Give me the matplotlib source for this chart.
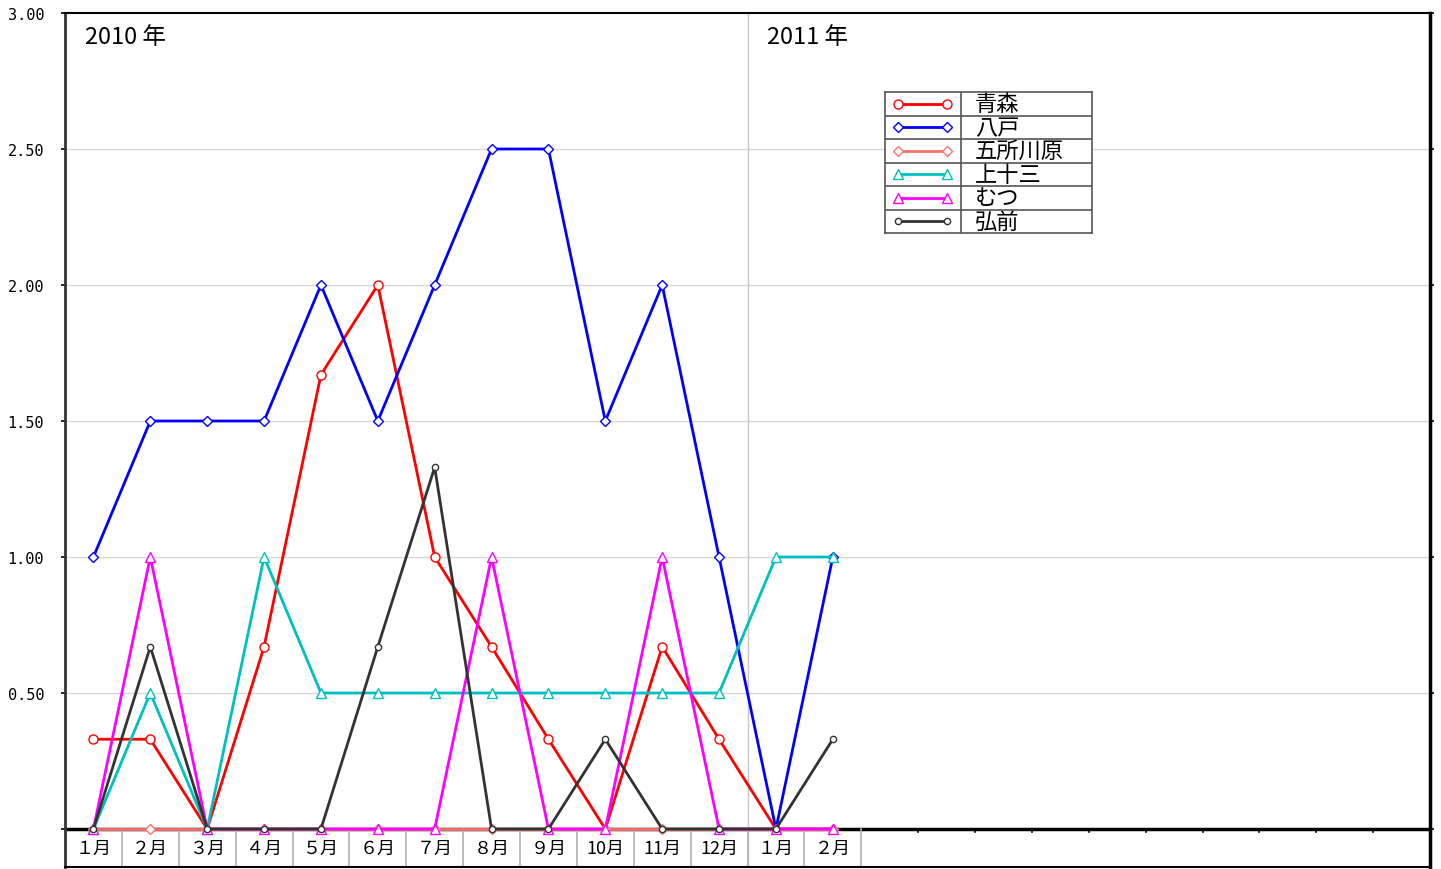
import numpy as np
import matplotlib
matplotlib.use("Agg")
import matplotlib.pyplot as plt

plt.rcParams['font.family'] = ['Noto Sans CJK JP', 'DejaVu Sans']

# --- data ---
months = ["１月", "２月", "３月", "４月", "５月", "６月", "７月", "８月", "９月",
          "10月", "11月", "12月", "１月", "２月"]
n_slots = 24
years = ["2010 年", "2011 年"]

aomori = [0.33, 0.33, 0, 0.67, 1.67, 2.0, 1.0, 0.67, 0.33, 0, 0.67, 0.33, 0, 0]
hachinohe = [1.0, 1.5, 1.5, 1.5, 2.0, 1.5, 2.0, 2.5, 2.5, 1.5, 2.0, 1.0, 0, 1.0]
goshogawara = [0, 0, 0, 0, 0, 0, 0, 0, 0, 0, 0, 0, 0, 0]
kamitosan = [0, 0.5, 0, 1.0, 0.5, 0.5, 0.5, 0.5, 0.5, 0.5, 0.5, 0.5, 1.0, 1.0]
mutsu = [0, 1.0, 0, 0, 0, 0, 0, 1.0, 0, 0, 1.0, 0, 0, 0]
hirosaki = [0, 0.67, 0, 0, 0, 0.67, 1.33, 0, 0, 0.33, 0, 0, 0, 0.33]

# name, values, colour, marker, marker size, show markers at zero
series = [
    ("青森", aomori, "#ff0000", "o", 6.5, False),
    ("八戸", hachinohe, "#0000ff", "D", 5, True),
    ("五所川原", goshogawara, "#ff7070", "D", 5, True),
    ("上十三", kamitosan, "#00c0c0", "^", 6.5, True),
    ("むつ", mutsu, "#ff00ff", "^", 6.5, True),
    ("弘前", hirosaki, "#333333", "o", 4.5, True),
]

W, H = 1441, 870
fig = plt.figure(figsize=(W / 100, H / 100), dpi=100)
ax = fig.add_axes([65 / W, 2 / H, 1365 / W, 854 / H])

ymin = -38 * 3 / 816
ax.set_xlim(0, n_slots)
ax.set_ylim(ymin, 3.0)

x = np.arange(len(months)) + 0.5

# grid and frame
yt = np.arange(0, 3.01, 0.5)
for v in yt[1:-1]:
    ax.axhline(v, color="#d8d8d8", lw=1, zorder=1)
ax.axvline(12, color="#c8c8c8", lw=1, zorder=1)
ax.axhline(0, color="black", lw=2.5, zorder=2)

for s in ["top", "bottom"]:
    ax.spines[s].set_linewidth(1.5)
ax.spines["left"].set_linewidth(2)
ax.spines["left"].set_color("#333333")
ax.spines["right"].set_linewidth(2.5)

ax.set_yticks(yt)
ax.set_yticklabels([""] + ["%.2f" % v for v in yt[1:]], fontfamily="DejaVu Sans Mono", fontsize=11)
ax.tick_params(axis="y", direction="out", length=3, width=1.2, pad=12, left=True, right=True)
ax.set_xticks([])

# label band cells under the axis
for b in range(1, len(months) + 1):
    ax.plot([b, b], [ymin, 0], color="#b0b0b0", lw=1.2, zorder=2, clip_on=False)
for b in range(len(months) + 1, n_slots):
    ax.plot([b, b], [0, -0.012], color="black", lw=1.2, zorder=2)
for xi, m in zip(x, months):
    ax.text(xi, ymin / 2, m, ha="center", va="center", fontsize=13)

# year labels
ax.text(0.35, 2.915, years[0], ha="left", va="center", fontsize=17)
ax.text(12.35, 2.915, years[1], ha="left", va="center", fontsize=17)

# series
for i, (name, vals, col, mk, ms, zero_mk) in enumerate(series):
    if zero_mk:
        every = None
    else:
        every = [k for k, v in enumerate(vals) if v != 0]
    ax.plot(x, vals, color=col, lw=2, marker=mk, ms=ms, mfc="white", mec=col,
            mew=1, markevery=every, zorder=3 + i, clip_on=False)

# legend table
lax = fig.add_axes([885 / W, (H - 234) / H, 207 / W, 141 / H])
lax.set_xlim(0, 207)
lax.set_ylim(6, 0)
lax.set_xticks([])
lax.set_yticks([])
for s in lax.spines.values():
    s.set_color("#555555")
    s.set_linewidth(1.2)
lax.axvline(76, color="#555555", lw=1.2)
for r in range(1, 6):
    lax.axhline(r, color="#555555", lw=1.2)
for r, (name, vals, col, mk, ms, zero_mk) in enumerate(series):
    lax.plot([13, 62], [r + 0.5, r + 0.5], color=col, lw=2, marker=mk,
             ms=ms, mfc="white", mec=col, mew=1)
    lax.text(90, r + 0.5, name, ha="left", va="center", fontsize=16)

fig.savefig("out.png", dpi=100)
